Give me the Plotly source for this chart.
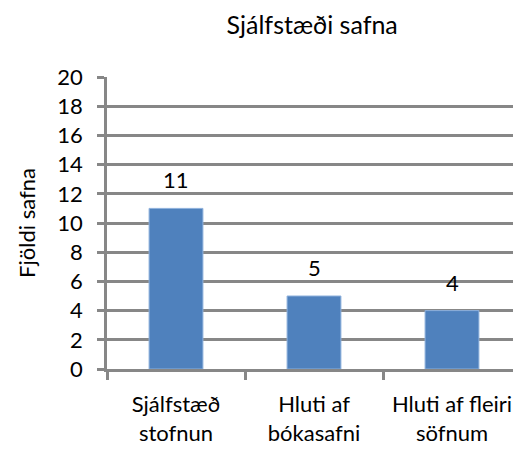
import plotly.graph_objects as go

categories = ["Sjálfstæð<br>stofnun", "Hluti af<br>bókasafni", "Hluti af fleiri<br>söfnum"]
values = [11, 5, 4]
y_ticks = [0, 2, 4, 6, 8, 10, 12, 14, 16, 18, 20]

FONT = "Lato, 'Open Sans', sans-serif"
GRID = "#878787"

fig = go.Figure()
fig.add_trace(go.Bar(
    x=categories, y=values, width=0.39,
    marker=dict(color="#4F81BD", line=dict(color="#8DB0DC", width=1)),
    hoverinfo="skip",
))

for c, v in zip(categories, values):
    fig.add_annotation(x=c, y=v, text=str(v), showarrow=False,
                       yanchor="bottom", yshift=13,
                       font=dict(family=FONT, size=22, color="black"))

# page has an 8px body margin, so the figure is sized/offset to compensate
fig.update_layout(
    width=513, height=442,
    margin=dict(l=99, r=0, t=69, b=81),
    paper_bgcolor="white", plot_bgcolor="white",
    showlegend=False,
    title=dict(text="Sjálfstæði safna", x=0.593, xanchor="center", y=0.9615, yanchor="middle",
               font=dict(family=FONT, size=25, color="black")),
    font=dict(family=FONT, size=22, color="black"),
)
fig.update_xaxes(
    type="category", tickson="boundaries", ticks="outside", ticklen=8,
    tickwidth=2.5, tickcolor=GRID, showline=True, linecolor=GRID, linewidth=2.5,
    showgrid=False, tickfont=dict(family=FONT, size=22, color="black"),
    ticklabelstandoff=14,
    range=[-0.5, 2.5],
)
fig.update_yaxes(
    range=[0, 20], tickvals=y_ticks, ticks="outside", ticklen=7, tickwidth=2.5,
    tickcolor=GRID, showline=True, linecolor=GRID, linewidth=2.5,
    showgrid=True, gridcolor=GRID, gridwidth=2.5, zeroline=False,
    tickfont=dict(family=FONT, size=22, color="black"),
    ticklabelstandoff=10,
    title=dict(text="Fjöldi safna", font=dict(family=FONT, size=22, color="black"), standoff=16),
)

fig.write_html("out.html")
